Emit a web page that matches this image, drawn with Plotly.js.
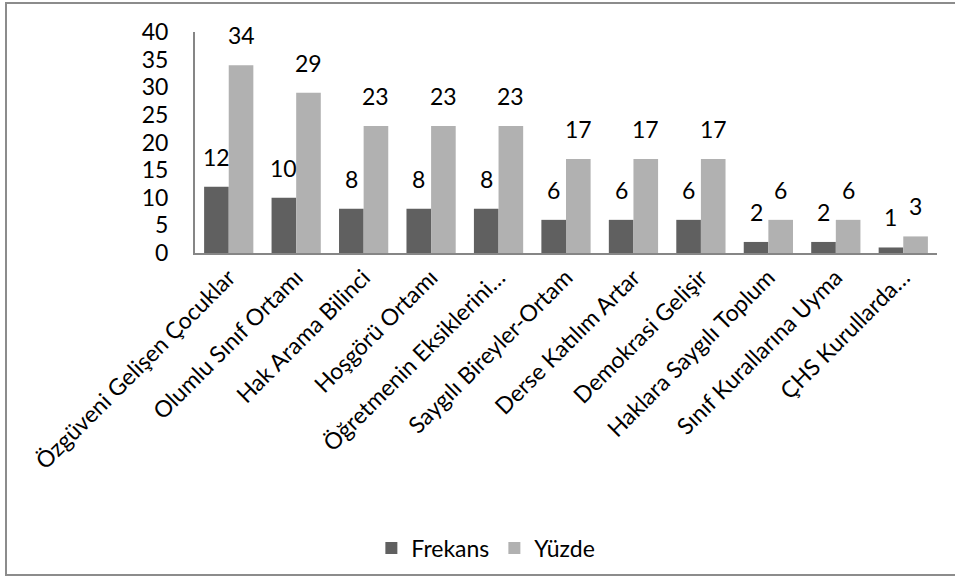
<!DOCTYPE html>
<html>
<head>
<meta charset="utf-8">
<script src="https://cdn.plot.ly/plotly-3.0.1.min.js"></script>
<style>
html,body{margin:0;padding:0;background:#fff;overflow:hidden;}
#frame{position:absolute;left:5px;top:2px;width:960px;height:574px;border:2px solid #8c8c8c;box-sizing:border-box;}
#chart{position:absolute;left:0;top:0;width:955px;height:581px;}
</style>
</head>
<body>
<div id="frame"></div>
<div id="chart"></div>
<script>
const categories = [
  "Özgüveni Gelişen Çocuklar",
  "Olumlu Sınıf Ortamı",
  "Hak Arama Bilinci",
  "Hoşgörü Ortamı",
  "Öğretmenin Eksiklerini…",
  "Saygılı Bireyler-Ortam",
  "Derse Katılım Artar",
  "Demokrasi Gelişir",
  "Haklara Saygılı Toplum",
  "Sınıf Kurallarına Uyma",
  "ÇHS Kurullarda…"
];
const frekans = [12, 10, 8, 8, 8, 6, 6, 6, 2, 2, 1];
const yuzde = [34, 29, 23, 23, 23, 17, 17, 17, 6, 6, 3];
const seriesNames = ["Frekans", "Yüzde"];
const yTicks = [0, 5, 10, 15, 20, 25, 30, 35, 40];

const font = "Lato, 'Open Sans', sans-serif";
const traces = [
  {type: "bar", name: seriesNames[0], x: categories, y: frekans, marker: {color: "#606060"}},
  {type: "bar", name: seriesNames[1], x: categories, y: yuzde, marker: {color: "#b1b1b1"}}
];
const annotations = [];
[frekans, yuzde].forEach((vals, si) => {
  vals.forEach((v, i) => {
    annotations.push({x: categories[i], y: v, xref: "x", yref: "y", text: String(v),
      showarrow: false, yanchor: "bottom", xanchor: "center", yshift: 14,
      xshift: si === 0 ? -12.3 : 12.3,
      font: {family: font, size: 23, color: "#000"}});
  });
});
const layout = {
  width: 955, height: 581,
  margin: {l: 195, r: 18, t: 32, b: 328},
  paper_bgcolor: "rgba(0,0,0,0)", plot_bgcolor: "rgba(0,0,0,0)",
  barmode: "group", bargap: 0.27, bargroupgap: 0,
  font: {family: font, color: "#000"},
  showlegend: true,
  annotations: annotations,
  legend: {orientation: "h", x: 0.392, y: -1.335, xanchor: "center", yanchor: "middle",
    font: {family: font, size: 23, color: "#000"}, traceorder: "normal"},
  xaxis: {tickangle: -45, showline: true, linecolor: "#868686", linewidth: 2,
    ticks: "", showgrid: false, tickfont: {family: font, size: 23, color: "#000"}},
  yaxis: {range: [0, 40], tickvals: yTicks, ticktext: yTicks.map(String), showline: true,
    linecolor: "#868686", linewidth: 2, ticks: "", showgrid: false, zeroline: false,
    ticklabelstandoff: 20, tickfont: {family: font, size: 23, color: "#000"}}
};
Plotly.newPlot("chart", traces, layout, {displayModeBar: false, staticPlot: true});
</script>
</body>
</html>
